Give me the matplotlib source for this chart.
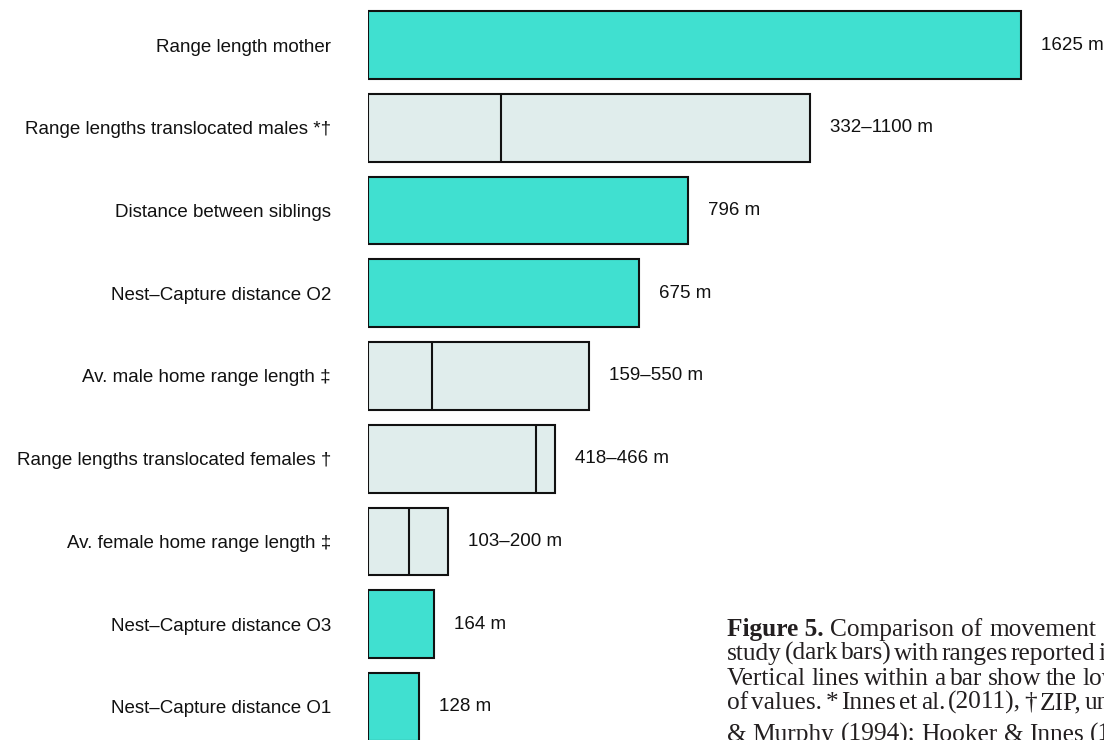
import matplotlib
matplotlib.use("Agg")
import matplotlib.pyplot as plt

# ---- data ----
categories = [
    "Range length mother",
    "Range lengths translocated males *†",
    "Distance between siblings",
    "Nest–Capture distance O2",
    "Av. male home range length ‡",
    "Range lengths translocated females †",
    "Av. female home range length ‡",
    "Nest–Capture distance O3",
    "Nest–Capture distance O1",
]
low_values = [None, 332, None, None, 159, 418, 103, None, None]
high_values = [1625, 1100, 796, 675, 550, 466, 200, 164, 128]
value_labels = ["1625 m", "332–1100 m", "796 m", "675 m", "159–550 m",
                "418–466 m", "103–200 m", "164 m", "128 m"]

caption_lines = [
    ["Figure 5.", "Comparison", "of", "movement"],
    ["study", "(dark", "bars)", "with", "ranges", "reported", "i"],
    ["Vertical", "lines", "within", "a", "bar", "show", "the", "low"],
    ["of", "values.", "*", "Innes", "et", "al.", "(2011),", "†", "ZIP,", "un"],
    ["&", "Murphy", "(1994);", "Hooker", "&", "Innes", "(1"],
]

# ---- style ----
W, H, DPI = 1104, 740, 100
TEAL = "#40E0D0"
LIGHT = "#E0EDEC"
EDGE = "#111111"
SANS = ["Liberation Sans", "DejaVu Sans"]
SERIF = ["Liberation Serif", "DejaVu Serif"]

fig = plt.figure(figsize=(W / DPI, H / DPI), dpi=DPI)
ax = fig.add_axes([368 / W, 0, (W - 368) / W, 1])

bar_h = 0.82
ys = list(range(len(categories)))
for y, lo, hi, lab in zip(ys, low_values, high_values, value_labels):
    color = TEAL if lo is None else LIGHT
    ax.barh(y, hi, left=0, height=bar_h, color=color, edgecolor=EDGE,
            linewidth=1.5, zorder=2)
    if lo is not None:
        ax.vlines(lo, y - bar_h / 2, y + bar_h / 2, color=EDGE,
                  linewidth=1.5, zorder=3)
    ax.annotate(lab, xy=(hi, y), xytext=(14.4, 0), textcoords="offset points",
                ha="left", va="center", fontsize=13.5, family=SANS,
                color="#111111")

ax.set_xlim(0, (W - 368) / 0.4018)
ax.set_ylim(8.40, -0.544)
ax.set_yticks(ys)
ax.set_yticklabels(categories, fontsize=13.5, family=SANS, color="#111111")
ax.tick_params(axis="y", length=0, pad=26.6)
ax.set_xticks([])
for s in ax.spines.values():
    s.set_visible(False)

# ---- caption (justified lines, clipped by the figure edge as in the source) ----
renderer = fig.canvas.get_renderer()
starts = [727, 727, 727, 727, 727]
last_starts = [989, 1098, 1082, 1085, 1090]
baselines = [636, 660, 685, 709, 741]
CAP_SIZE = 18.3
for words, x0, xl, yb in zip(caption_lines, starts, last_starts, baselines):
    texts = []
    for i, w in enumerate(words):
        bold = (words is caption_lines[0] and i == 0)
        t = fig.text(0, 0, w, fontsize=CAP_SIZE, family=SERIF,
                     fontweight="bold" if bold else "normal",
                     color="#231f20", va="baseline", ha="left",
                     transform=None)
        texts.append(t)
    widths = [t.get_window_extent(renderer).width for t in texts]
    n = len(words)
    gap = (xl - x0 - sum(widths[:-1])) / (n - 1)
    x = x0
    for t, wdt in zip(texts, widths):
        t.set_position((x, H - yb))
        x += wdt + gap

fig.savefig("out.png", dpi=DPI)
